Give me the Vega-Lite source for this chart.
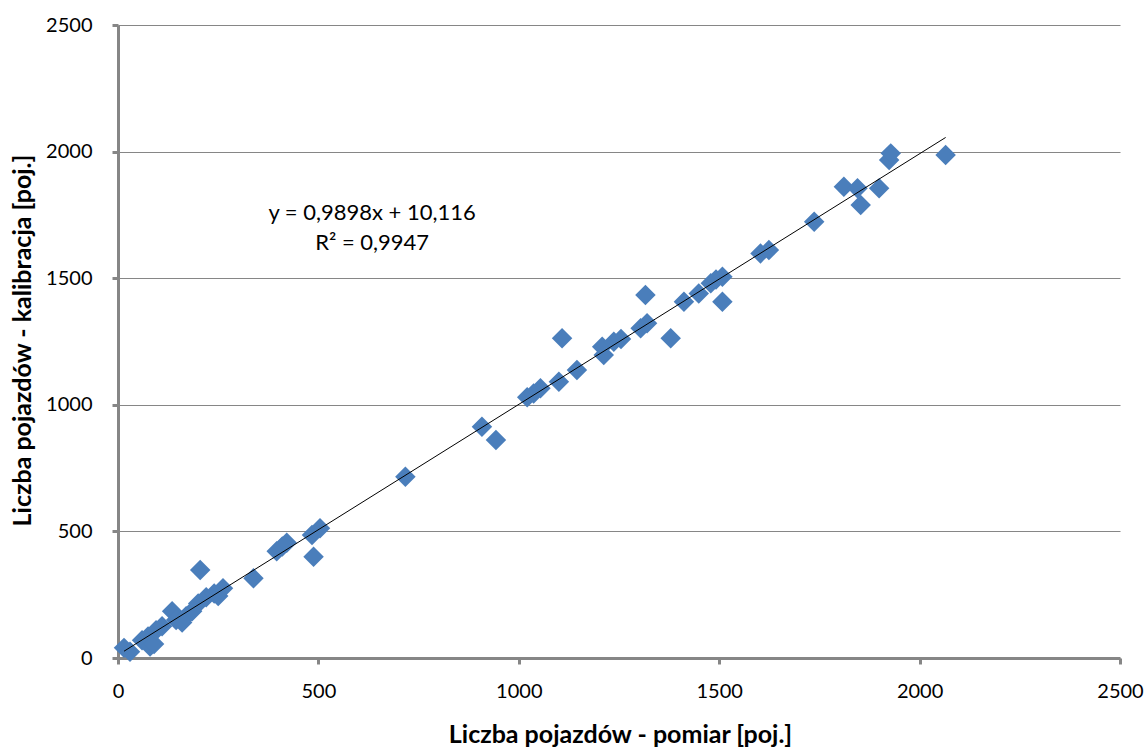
{
  "$schema": "https://vega.github.io/schema/vega-lite/v6.json",
  "autosize": "none",
  "padding": {"left": 118, "top": 25, "right": 28, "bottom": 89},
  "width": 1002,
  "height": 633,
  "background": "white",
  "config": {"view": {"stroke": null}, "font": "Lato"},
  "datasets": {
    "pts": [
      {"x": 15, "y": 40}, {"x": 30, "y": 25}, {"x": 60, "y": 70}, {"x": 75, "y": 85},
      {"x": 80, "y": 45}, {"x": 90, "y": 55}, {"x": 95, "y": 110}, {"x": 110, "y": 125},
      {"x": 135, "y": 185}, {"x": 145, "y": 150}, {"x": 160, "y": 140}, {"x": 170, "y": 165},
      {"x": 185, "y": 185}, {"x": 205, "y": 348}, {"x": 200, "y": 215}, {"x": 220, "y": 240},
      {"x": 240, "y": 255}, {"x": 250, "y": 245}, {"x": 262, "y": 275}, {"x": 338, "y": 315},
      {"x": 396, "y": 422}, {"x": 410, "y": 440}, {"x": 421, "y": 455}, {"x": 488, "y": 400},
      {"x": 484, "y": 486}, {"x": 504, "y": 512}, {"x": 717, "y": 716}, {"x": 908, "y": 913},
      {"x": 943, "y": 861}, {"x": 1021, "y": 1030}, {"x": 1037, "y": 1045}, {"x": 1054, "y": 1065},
      {"x": 1100, "y": 1091}, {"x": 1108, "y": 1263}, {"x": 1145, "y": 1137}, {"x": 1208, "y": 1229},
      {"x": 1212, "y": 1197}, {"x": 1237, "y": 1249}, {"x": 1255, "y": 1260}, {"x": 1304, "y": 1302},
      {"x": 1320, "y": 1322}, {"x": 1316, "y": 1434}, {"x": 1379, "y": 1263}, {"x": 1412, "y": 1407},
      {"x": 1449, "y": 1440}, {"x": 1479, "y": 1480}, {"x": 1492, "y": 1495}, {"x": 1508, "y": 1506},
      {"x": 1508, "y": 1407}, {"x": 1603, "y": 1598}, {"x": 1624, "y": 1611}, {"x": 1737, "y": 1723},
      {"x": 1811, "y": 1861}, {"x": 1845, "y": 1855}, {"x": 1853, "y": 1789}, {"x": 1899, "y": 1855},
      {"x": 1924, "y": 1967}, {"x": 1928, "y": 1993}, {"x": 2065, "y": 1987}
    ],
    "eq": [
      {"x": 634, "y": 1757, "t": "y = 0,9898x + 10,116"},
      {"x": 634, "y": 1639, "t": "R² = 0,9947"}
    ]
  },
  "layer": [
    {
      "data": {"name": "pts"},
      "mark": {"type": "point", "shape": "diamond", "filled": true, "size": 420, "color": "#4A7EBB", "opacity": 1},
      "encoding": {
        "x": {
          "field": "x", "type": "quantitative",
          "scale": {"domain": [0, 2500], "nice": false, "zero": true},
          "axis": {
            "values": [0, 500, 1000, 1500, 2000, 2500],
            "format": "d",
            "grid": false,
            "domainColor": "#868686", "domainWidth": 3,
            "tickColor": "#868686", "tickWidth": 3, "tickSize": 6,
            "labelFont": "Lato", "labelFontSize": 20, "labelColor": "#000000", "labelPadding": 17,
            "labelFlush": false,
            "title": "Liczba pojazdów - pomiar [poj.]",
            "titleFont": "Lato", "titleFontSize": 25, "titleFontWeight": "bold", "titleColor": "#000000",
            "titleX": 502, "titleY": 76, "titleAlign": "center", "titleBaseline": "middle"
          }
        },
        "y": {
          "field": "y", "type": "quantitative",
          "scale": {"domain": [0, 2500], "nice": false, "zero": true},
          "axis": {
            "values": [0, 500, 1000, 1500, 2000, 2500],
            "format": "d",
            "grid": true, "gridColor": "#868686", "gridWidth": 1,
            "domainColor": "#868686", "domainWidth": 3,
            "tickColor": "#868686", "tickWidth": 3, "tickSize": 6,
            "labelFont": "Lato", "labelFontSize": 20, "labelColor": "#000000", "labelPadding": 20,
            "labelFlush": false,
            "title": "Liczba pojazdów - kalibracja [poj.]",
            "titleFont": "Lato", "titleFontSize": 25, "titleFontWeight": "bold", "titleColor": "#000000",
            "titleX": -96, "titleY": 315, "titleAngle": -90, "titleAlign": "center", "titleBaseline": "middle"
          }
        }
      }
    },
    {
      "data": {"name": "pts"},
      "transform": [{"regression": "y", "on": "x"}],
      "mark": {"type": "line", "color": "#000000", "strokeWidth": 1},
      "encoding": {
        "x": {"field": "x", "type": "quantitative"},
        "y": {"field": "y", "type": "quantitative"}
      }
    },
    {
      "data": {"name": "eq"},
      "mark": {"type": "text", "font": "Lato", "fontSize": 22, "color": "#000000", "align": "center", "baseline": "middle"},
      "encoding": {
        "x": {"field": "x", "type": "quantitative"},
        "y": {"field": "y", "type": "quantitative"},
        "text": {"field": "t"}
      }
    }
  ]
}
